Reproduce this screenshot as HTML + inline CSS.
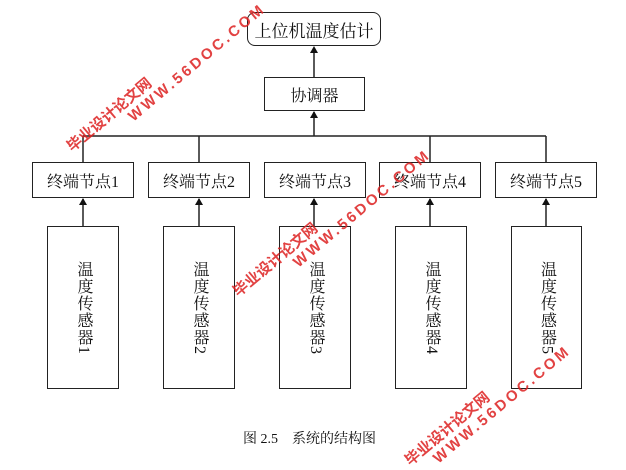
<!DOCTYPE html>
<html><head><meta charset="utf-8"><style>
body{margin:0;width:626px;height:454px;background:#fff;position:relative;overflow:hidden;font-family:"Liberation Serif","Noto Serif CJK SC","Noto Sans CJK SC",serif;}
.b{position:absolute;border:1.5px solid #222;box-sizing:border-box;background:#fff;display:flex;align-items:center;justify-content:center;font-size:16px;color:#111;}
.s{position:absolute;border:1.5px solid #222;box-sizing:border-box;background:#fff;}
.s span{position:absolute;left:50%;top:34px;transform:translateX(-50%);writing-mode:vertical-rl;font-size:16px;line-height:18px;letter-spacing:1px;color:#111;}
.wm{position:absolute;color:#d22;font-family:"Liberation Sans","Noto Sans CJK SC",sans-serif;font-weight:bold;transform-origin:0 0;white-space:nowrap;opacity:.85}
</style></head><body>
<svg width="626" height="454" style="position:absolute;left:0;top:0">
<g stroke="#222" stroke-width="1.5" fill="none">
<line x1="314" y1="77" x2="314" y2="50"/>
<line x1="314" y1="136" x2="314" y2="112"/>
<line x1="83" y1="136" x2="546" y2="136"/>
<line x1="83" y1="136" x2="83" y2="162"/>
<line x1="199" y1="136" x2="199" y2="162"/>
<line x1="430" y1="136" x2="430" y2="162"/>
<line x1="546" y1="136" x2="546" y2="162"/>
<line x1="83" y1="226" x2="83" y2="199"/>
<line x1="199" y1="226" x2="199" y2="199"/>
<line x1="314" y1="226" x2="314" y2="199"/>
<line x1="430" y1="226" x2="430" y2="199"/>
<line x1="546" y1="226" x2="546" y2="199"/>
</g>
<g fill="#111">
<path d="M310,53 L314,46 L318,53z"/><path d="M310,118 L314,111 L318,118z"/>
<path d="M79,205 L83,198 L87,205z"/><path d="M195,205 L199,198 L203,205z"/><path d="M310,205 L314,198 L318,205z"/><path d="M426,205 L430,198 L434,205z"/><path d="M542,205 L546,198 L550,205z"/>
</g>
</svg>
<div class="b" style="left:247px;top:12px;width:134px;height:34px;border-radius:8px;font-size:17px">上位机温度估计</div>
<div class="b" style="left:264px;top:77px;width:101px;height:34px">协调器</div>
<div class="b" style="left:32px;top:162px;width:102px;height:36px">终端节点1</div>
<div class="b" style="left:148px;top:162px;width:102px;height:36px">终端节点2</div>
<div class="b" style="left:264px;top:162px;width:102px;height:36px">终端节点3</div>
<div class="b" style="left:379px;top:162px;width:102px;height:36px">终端节点4</div>
<div class="b" style="left:495px;top:162px;width:102px;height:36px">终端节点5</div>
<div class="s" style="left:47px;top:226px;width:72px;height:163px"><span>温度传感器1</span></div>
<div class="s" style="left:163px;top:226px;width:72px;height:163px"><span>温度传感器2</span></div>
<div class="s" style="left:279px;top:226px;width:72px;height:163px"><span>温度传感器3</span></div>
<div class="s" style="left:395px;top:226px;width:72px;height:163px"><span>温度传感器4</span></div>
<div class="s" style="left:511px;top:226px;width:71px;height:163px"><span>温度传感器5</span></div>
<div style="position:absolute;left:243px;top:428px;font-size:14px;color:#111;white-space:pre">图 2.5    系统的结构图</div>
<div class="wm" style="left:62px;top:140px;transform:rotate(-40deg);font-size:15px">毕业设计论文网</div>
<div class="wm" style="left:125px;top:112px;transform:rotate(-40deg);font-size:15px;letter-spacing:3px">WWW.56DOC.COM</div>
<div class="wm" style="left:228px;top:285px;transform:rotate(-40deg);font-size:15px">毕业设计论文网</div>
<div class="wm" style="left:290px;top:258px;transform:rotate(-40deg);font-size:15px;letter-spacing:3px">WWW.56DOC.COM</div>
<div class="wm" style="left:400px;top:454px;transform:rotate(-40deg);font-size:15px">毕业设计论文网</div>
<div class="wm" style="left:430px;top:454px;transform:rotate(-40deg);font-size:15px;letter-spacing:3px">WWW.56DOC.COM</div>
</body></html>
